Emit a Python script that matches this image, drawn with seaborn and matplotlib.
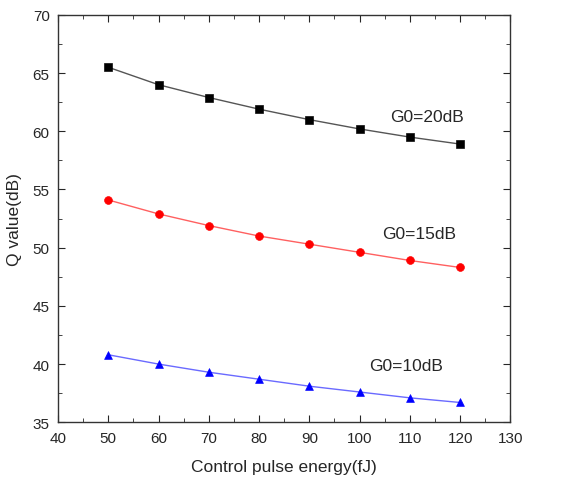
import numpy as np
import pandas as pd
import matplotlib
matplotlib.use("Agg")
import matplotlib.pyplot as plt
import seaborn as sns
from matplotlib.ticker import MultipleLocator

# data
energy = [50, 60, 70, 80, 90, 100, 110, 120]
q_20db = [65.5, 64.0, 62.9, 61.9, 61.0, 60.2, 59.5, 58.9]
q_15db = [54.1, 52.9, 51.9, 51.0, 50.3, 49.6, 48.9, 48.3]
q_10db = [40.8, 40.0, 39.3, 38.7, 38.1, 37.6, 37.1, 36.7]
series_names = ["G0=20dB", "G0=15dB", "G0=10dB"]

df = pd.DataFrame({
    "energy": energy * 3,
    "q": q_20db + q_15db + q_10db,
    "gain": np.repeat(series_names, len(energy)),
})

sns.set_style("ticks")
plt.rcParams["font.family"] = ["Liberation Sans", "DejaVu Sans"]

fig, ax = plt.subplots(figsize=(5.8, 4.81), dpi=100)
fig.subplots_adjust(left=0.10, right=0.88, top=0.967, bottom=0.12)

line_colors = {"G0=20dB": "#555555", "G0=15dB": "#ff6060", "G0=10dB": "#6a6aff"}
marker_colors = {"G0=20dB": "black", "G0=15dB": "red", "G0=10dB": "blue"}
markers = {"G0=20dB": "s", "G0=15dB": "o", "G0=10dB": "^"}

for name in series_names:
    sub = df[df["gain"] == name]
    sns.lineplot(data=sub, x="energy", y="q", ax=ax, color=line_colors[name],
                 linewidth=1.0, legend=False)
    sns.scatterplot(data=sub, x="energy", y="q", ax=ax, color=marker_colors[name],
                    marker=markers[name], s=32, edgecolor=marker_colors[name],
                    legend=False, zorder=3)

ax.text(113.5, 61.3, "G0=20dB", ha="center", va="center", fontsize=12.5)
ax.text(111.9, 51.2, "G0=15dB", ha="center", va="center", fontsize=12.5)
ax.text(109.3, 39.9, "G0=10dB", ha="center", va="center", fontsize=12.5)

ax.set_xlim(40, 130)
ax.set_ylim(35, 70)
ax.xaxis.set_major_locator(MultipleLocator(10))
ax.xaxis.set_minor_locator(MultipleLocator(5))
ax.yaxis.set_major_locator(MultipleLocator(5))
ax.yaxis.set_minor_locator(MultipleLocator(2.5))
ax.tick_params(which="both", direction="in", top=True, right=True, labelsize=11)
ax.tick_params(which="major", length=5, pad=6)
ax.tick_params(which="minor", length=3)
for s in ax.spines.values():
    s.set_linewidth(1.0)
    s.set_color("#333333")

ax.set_xlabel("Control pulse energy(fJ)", fontsize=12.5, labelpad=10)
ax.set_ylabel("Q value(dB)", fontsize=12.5, labelpad=8)

fig.savefig("out.png", dpi=100)
